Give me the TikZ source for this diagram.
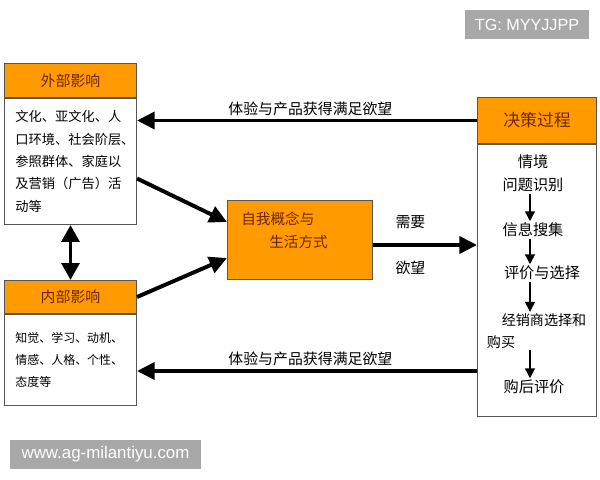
\documentclass[tikz,border=0pt]{standalone}
\usepackage{fontspec}
\setmainfont{Noto Sans CJK SC}
\newfontfamily\markfont{Liberation Sans}
\usepackage{tikz}
\usetikzlibrary{arrows.meta,positioning,calc}
\definecolor{amber}{HTML}{FF9A00}
\definecolor{rust}{HTML}{6E2600}
\definecolor{frame}{HTML}{555555}
\definecolor{markgray}{HTML}{A8A8A8}

\begin{document}
\begin{tikzpicture}[
  x=0.025cm,y=-0.025cm,
  head/.style={draw=frame,line width=0.7pt,fill=amber,text=rust,inner sep=0pt,anchor=north west,font=\fontsize{10.6}{12}\selectfont},
  body/.style={draw=frame,line width=0.7pt,fill=white,inner xsep=0.275cm,inner ysep=0pt,align=left,text width=2.75cm},
  stage/.style={inner sep=1pt,align=center,font=\fontsize{10.8}{16.3}\selectfont},
  cue/.style={font=\fontsize{10.6}{12}\selectfont},
  flow/.style={line width=2.8pt,-{Triangle[length=12.5pt,width=12pt]}},
  twoway/.style={line width=2.8pt,{Triangle[length=12pt,width=12.5pt]}-{Triangle[length=12pt,width=12.5pt]}},
  tick/.style={line width=1pt,-{Triangle[length=7pt,width=7pt]}},
  badge/.style={fill=markgray,text=white,inner sep=0pt,minimum height=0.725cm}
]
\useasboundingbox (0,0) rectangle (600,480);
\fill[white] (0,0) rectangle (600,480);

\node[head,minimum width=3.3cm,minimum height=0.85cm] (exthead) at (4,63) {外部影响};
\node[body,minimum height=3.15cm,below=0pt of exthead,font=\fontsize{9.4}{15.9}\selectfont] (extbody)
  {文化、亚文化、人\\口环境、社会阶层、\\参照群体、家庭以\\及营销（广告）活\\动等};
\node[head,minimum width=3.3cm,minimum height=0.825cm] (inthead) at (4,280) {内部影响};
\node[body,minimum height=2.275cm,below=0pt of inthead,font=\fontsize{8.5}{15.6}\selectfont] (intbody)
  {知觉、学习、动机、\\情感、人格、个性、\\态度等};

\node[head,minimum width=2.975cm,minimum height=1.15cm,font=\fontsize{12}{14}\selectfont] (dechead) at (477,97) {决策过程};
\node[body,text width=2.425cm,minimum height=6.8cm,below=0pt of dechead] (decbody) {};

\node[head,minimum width=3.625cm,minimum height=1.975cm] (self) at (227,200) {};
\node[anchor=north west,inner sep=0pt,align=left,text=rust,font=\fontsize{10.4}{16.3}\selectfont] (selftext) at (241,212)
  {自我概念与\\\hspace*{0.7cm}生活方式};

\node[stage] (s1) at (533,173.5) {情境\\问题识别};
\node[stage] (s2) at (533,230) {信息搜集};
\node[stage] (s3) at (542,273) {评价与选择};
\node[stage,font=\fontsize{10}{12}\selectfont] (s4) at (544,320) {经销商选择和};
\node[stage,font=\fontsize{10}{12}\selectfont] (s4b) at (501,342) {购买};
\node[stage] (s5) at (534,387) {购后评价};

\coordinate (spine) at (530,0);
\draw[tick] (s1.south -| spine) -- (s2.north -| spine);
\draw[tick] (s2.south -| spine) -- (s3.north -| spine);
\draw[tick] (s3.south -| spine) -- (s4.north -| spine);
\draw[tick] (s4b.south -| spine) -- (s5.north -| spine);

\draw[flow] (dechead.west) -- node[cue,pos=.49,yshift=0.3cm] {体验与产品获得满足欲望} (dechead.west -| extbody.east);
\draw[flow] ($(decbody.west |- intbody.east)+(0,11)$) -- node[cue,pos=.49,yshift=0.3cm] {体验与产品获得满足欲望} ($(intbody.east)+(0,11)$);
\draw[flow] ($(extbody.east)+(0,17)$) -- ($(self.west)+(0,-18)$);
\draw[flow] (inthead.east) -- ($(self.west)+(0,18)$);
\draw[flow] ($(self.east)+(0,5)$) -- node[cue,pos=.36,yshift=0.575cm] {需要} node[cue,pos=.36,yshift=-0.575cm] {欲望} ($(self.east -| decbody.west)+(0,5)$);
\draw[twoway] (extbody.south) -- (inthead.north);

\node[badge,minimum width=3.1cm,font=\markfont\fontsize{11.5}{13}\selectfont] (tg) at (527,24.5) {TG: MYYJJPP};
\node[badge,minimum width=4.775cm,font=\markfont\fontsize{12}{14}\selectfont] (site) at (105.5,454.5) {www.ag-milantiyu.com};
\end{tikzpicture}
\end{document}
